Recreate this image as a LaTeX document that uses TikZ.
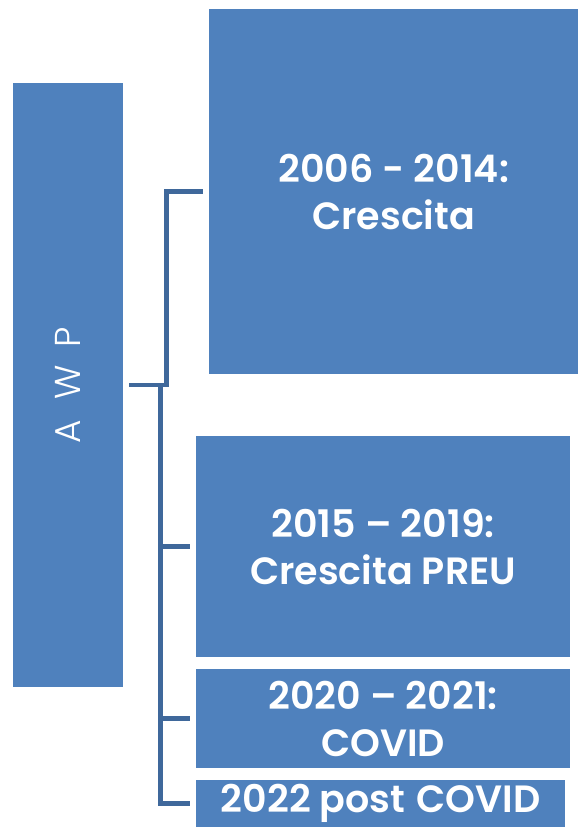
\documentclass[tikz,border=0pt]{standalone}
\usepackage{fontspec}
\setmainfont{Poppins}[BoldFont={Poppins SemiBold}]
\newfontfamily\awpfont{Poppins Light}
\usetikzlibrary{positioning}
\definecolor{boxblue}{RGB}{79,129,189}
\definecolor{linkblue}{RGB}{63,104,155}
\tikzset{period/.style={rectangle, fill=boxblue, anchor=north west, inner sep=0pt,
                        text=white, align=center, font=\bfseries\fontsize{38}{47}\selectfont},
         link/.style={draw=linkblue, line width=4.5pt, shorten <=6pt, shorten >=6pt}}

\begin{document}
\begin{tikzpicture}[x=1pt, y=-1pt]
    \useasboundingbox (0,0) rectangle (578,827);

    \node[period, minimum width=110pt, minimum height=604pt,
          font=\awpfont\fontsize{36}{40}\selectfont] (awp) at (13,83)
          {\rotatebox{90}{A\hspace{0.55em}W\hspace{0.5em}P}};
    \node[period, minimum width=369pt, minimum height=365pt] (p1) at (209,9) {2006 - 2014:\\Crescita};
    \node[period, minimum width=374pt, minimum height=221pt] (p2) at (196,436) {2015 -- 2019:\\Crescita PREU};
    \node[period, minimum width=374pt, minimum height=99pt] (p3) at (196,669) {2020 -- 2021:\\COVID};
    \node[period, minimum width=369pt, minimum height=47pt] (p4) at (196,780)
          {2022 post\hspace{0.3em}COVID};

    \draw[link] (awp.east) -- ++(43,0) |- (p1.west);
    \draw[link] (awp.east) -- ++(37,0) |- (p2.west);
    \draw[link] (awp.east) -- ++(37,0) |- (p3.west);
    \draw[link] (awp.east) -- ++(37,0) |- (p4.west);
  \end{tikzpicture}
\end{document}
